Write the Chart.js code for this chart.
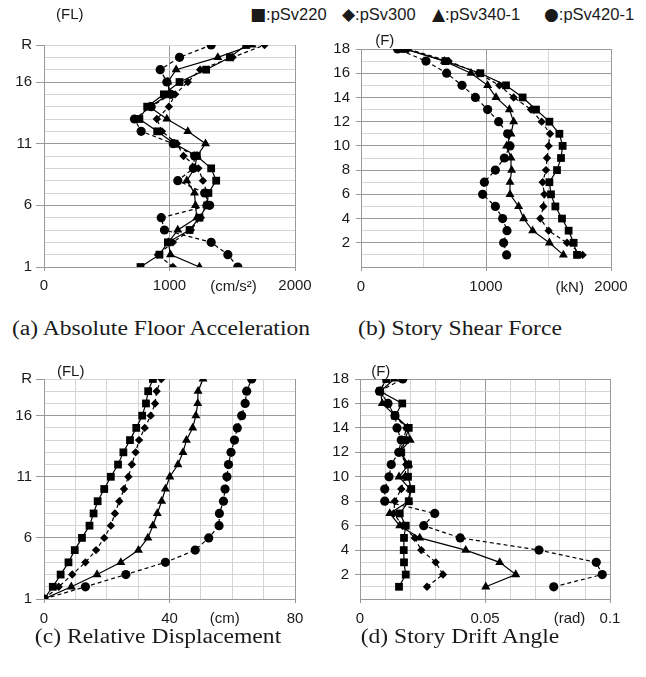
<!DOCTYPE html>
<html>
<head>
<meta charset="utf-8">
<script src="https://cdn.jsdelivr.net/npm/chart.js@4.4.1/dist/chart.umd.min.js"></script>
<style>
  body { margin: 0; background: #fff; width: 646px; height: 677px; position: relative; overflow: hidden;
         font-family: 'Liberation Sans', Arial, sans-serif; color: #1a1a1a; }
  canvas { position: absolute; }
  .legend { position: absolute; top: 4px; font-size: 16.5px; line-height: 20px; white-space: nowrap; }
  .legend .sym { font-family: 'DejaVu Sans', sans-serif; font-size: 17px; }
  .cap { position: absolute; font-family: 'Liberation Serif', 'Times New Roman', serif; font-size: 20px; line-height: 22px;
         white-space: nowrap; transform: translateX(-50%) scaleX(1.18); }
</style>
</head>
<body>

<div class="legend" style="left:250px"><span class="sym">■</span>:pSv220</div>
<div class="legend" style="left:342px"><span class="sym">◆</span>:pSv300</div>
<div class="legend" style="left:432px"><span class="sym">▲</span>:pSv340-1</div>
<div class="legend" style="left:544px"><span class="sym">●</span>:pSv420-1</div>

<canvas id="chartA" width="323" height="310" style="left:0;top:0"></canvas>
<canvas id="chartB" width="323" height="310" style="left:323px;top:0"></canvas>
<canvas id="chartC" width="323" height="300" style="left:0;top:340px"></canvas>
<canvas id="chartD" width="323" height="300" style="left:323px;top:340px"></canvas>

<div class="cap" style="left:161px;top:317px">(a) Absolute Floor Acceleration</div>
<div class="cap" style="left:460px;top:317px">(b) Story Shear Force</div>
<div class="cap" style="left:158px;top:625px">(c) Relative Displacement</div>
<div class="cap" style="left:460px;top:625px">(d) Story Drift Angle</div>

<script>
// floors (19 = R) and stories
const floorLevels = [1, 2, 3, 4, 5, 6, 7, 8, 9, 10, 11, 12, 13, 14, 15, 16, 17, 18, 19];
const storyLevels = [1, 2, 3, 4, 5, 6, 7, 8, 9, 10, 11, 12, 13, 14, 15, 16, 17, 18];
const seriesNames = ['pSv220', 'pSv300', 'pSv340-1', 'pSv420-1'];

// (a) absolute floor acceleration, cm/s2
const accelSv220 = [769, 920, 987, 1160, 1239, 1300, 1310, 1372, 1332, 1218, 1040, 902, 760, 822, 955, 1080, 1292, 1481, 1611];
const accelSv300 = [1027, 907, 1027, 1170, 1250, 1290, 1300, 1266, 1230, 1112, 1060, 940, 899, 995, 1045, 1146, 1244, 1503, 1757];
const accelSv340 = [1239, 1008, 990, 1066, 1218, 1207, 1199, 1138, 1200, 1220, 1287, 1146, 979, 840, 1000, 987, 1053, 1385, 1659];
const accelSv420 = [1544, 1465, 1332, 960, 934, 1320, 1280, 1066, 1190, 1200, 1030, 774, 721, 854, 1010, 979, 926, 1080, 1332];

// (b) story shear force, kN
const shearSv220 = [1728, 1701, 1661, 1608, 1555, 1520, 1507, 1568, 1600, 1613, 1587, 1507, 1400, 1293, 1160, 955, 675, 350];
const shearSv300 = [1773, 1648, 1501, 1435, 1459, 1467, 1453, 1480, 1488, 1501, 1512, 1445, 1360, 1221, 1107, 940, 701, 375];
const shearSv340 = [1619, 1507, 1373, 1301, 1261, 1192, 1192, 1205, 1200, 1165, 1200, 1221, 1187, 1080, 1013, 880, 667, 355];
const shearSv420 = [1165, 1141, 1168, 1133, 1075, 973, 987, 1075, 1147, 1192, 1173, 1101, 1013, 915, 808, 685, 520, 293];

// (c) relative displacement, cm
const dispSv220 = [0, 2.8, 5.3, 7.8, 9.8, 12.1, 14.5, 15.8, 17.1, 19.2, 21.3, 23.6, 25.3, 27.4, 29.4, 31.3, 32.5, 33.2, 34.7];
const dispSv300 = [0, 4.7, 9.0, 13.2, 16.6, 19.2, 21.3, 22.6, 24.0, 25.5, 26.9, 28.0, 29.2, 30.3, 32.1, 34.0, 35.4, 35.9, 37.4];
const dispSv340 = [0, 8.7, 16.9, 24.5, 30.1, 33.1, 34.7, 36.1, 37.5, 38.7, 40.1, 42.7, 44.3, 45.4, 47.4, 48.4, 49.0, 49.1, 50.7];
const dispSv420 = [0, 13.2, 26.1, 38.7, 48.2, 52.5, 55.8, 55.9, 57.2, 57.7, 58.3, 58.8, 59.6, 60.7, 61.6, 63.0, 64.1, 64.6, 66.2];

// (d) story drift angle, rad
const driftSv220 = [0.0156, 0.0183, 0.0176, 0.0175, 0.0176, 0.0183, 0.0159, 0.0195, 0.0205, 0.0192, 0.0192, 0.0165, 0.0180, 0.0195, 0.0140, 0.0169, 0.0080, 0.0105];
const driftSv300 = [0.0268, 0.0332, 0.0303, 0.0245, 0.0219, 0.0170, 0.0135, 0.0139, 0.0165, 0.0180, 0.0185, 0.0160, 0.0175, 0.0185, 0.0138, 0.0112, 0.0080, 0.0105];
const driftSv340 = [0.0503, 0.0623, 0.0559, 0.0423, 0.0239, 0.0159, 0.0119, 0.0195, 0.0200, 0.0156, 0.0195, 0.0158, 0.0201, 0.0190, 0.0140, 0.0089, 0.0082, 0.0137];
const driftSv420 = [0.0775, 0.0969, 0.0945, 0.0716, 0.0401, 0.0255, 0.0299, 0.0099, 0.0099, 0.0116, 0.0125, 0.0155, 0.0165, 0.0148, 0.0140, 0.0112, 0.0078, 0.0171];

// tick labels
const floorTickLabels = { 1: '1', 6: '6', 11: '11', 16: '16', 19: 'R' };
const storyTickLabels = { 2: '2', 4: '4', 6: '6', 8: '8', 10: '10', 12: '12', 14: '14', 16: '16', 18: '18' };
const accelTickLabels = ['0', '1000', '2000'];
const shearTickLabels = ['0', '1000', '2000'];
const dispTickLabels = ['0', '40', '80'];
const driftTickLabels = ['0', '0.05', '0.1'];

const MAJOR = '#9a9a9a';
const MINOR = '#d4d4d4';
const TEXT = '#1a1a1a';
const FONT = { family: "'Liberation Sans', Arial, sans-serif", size: 15 };

const markerStyles = [
    { pointStyle: 'rect', radius: 5.5, dash: [] },
    { pointStyle: 'rectRot', radius: 4.2, dash: [4, 3] },
    { pointStyle: 'triangle', radius: 5.2, dash: [] },
    { pointStyle: 'circle', radius: 4.6, dash: [4, 3] }
];

function buildDatasets(levels, seriesList) {
    return seriesList.map((values, i) => ({
        label: seriesNames[i],
        data: values.map((v, k) => ({ x: v, y: levels[k] })),
        showLine: true,
        borderColor: '#000',
        backgroundColor: '#000',
        borderWidth: 1.2,
        borderDash: markerStyles[i].dash,
        pointStyle: markerStyles[i].pointStyle,
        pointRadius: markerStyles[i].radius,
        pointBorderWidth: 0,
        pointBackgroundColor: '#000',
        tension: 0
    }));
}

// draws unit labels such as (FL) and (kN) next to the axes
const unitTextPlugin = {
    id: 'unitText',
    afterDraw(chart, args, opts) {
        const ctx = chart.ctx;
        const area = chart.chartArea;
        ctx.save();
        ctx.fillStyle = TEXT;
        ctx.font = `${FONT.size}px ${FONT.family}`;
        ctx.textAlign = 'center';
        ctx.textBaseline = 'middle';
        (opts.items || []).forEach(item => {
            const x = chart.scales.x.getPixelForValue(item.x);
            const y = item.fromTop ? area.top + item.dy : area.bottom + item.dy;
            ctx.fillText(item.text, x, y);
        });
        ctx.restore();
    }
};

function makePanel(id, cfg) {
    const near = (a, b) => Math.abs(a - b) < cfg.xStep * 1e-3;
    const isLabelX = v => cfg.xLabelAt.some(t => near(t, v));
    const xLabel = v => {
        const idx = cfg.xLabelAt.findIndex(t => near(t, v));
        return idx >= 0 ? cfg.xLabels[idx] : '';
    };
    const yLabel = v => cfg.yLabels[Math.round(v)] || '';

    new Chart(document.getElementById(id), {
        type: 'scatter',
        data: { datasets: cfg.datasets },
        plugins: [unitTextPlugin],
        options: {
            responsive: false,
            animation: false,
            events: [],
            layout: { padding: cfg.padding },
            plugins: {
                legend: { display: false },
                tooltip: { enabled: false },
                unitText: { items: cfg.units }
            },
            scales: {
                x: {
                    type: 'linear',
                    min: cfg.xMin, max: cfg.xMax,
                    afterFit: s => { s.height = cfg.xHeight; },
                    border: { color: MAJOR, width: 1 },
                    grid: {
                        tickLength: 4,
                        lineWidth: 1,
                        color: c => (c.tick && isLabelX(c.tick.value)) ? MAJOR : MINOR,
                        tickColor: c => (c.tick && isLabelX(c.tick.value)) ? MAJOR : 'rgba(0,0,0,0)'
                    },
                    ticks: {
                        stepSize: cfg.xStep,
                        autoSkip: false,
                        maxRotation: 0,
                        maxTicksLimit: 100,
                        padding: cfg.xPad,
                        color: TEXT,
                        font: FONT,
                        callback: v => xLabel(v)
                    }
                },
                y: {
                    type: 'linear',
                    min: cfg.yMin, max: cfg.yMax,
                    afterFit: s => { s.width = cfg.yWidth; },
                    border: { color: MAJOR, width: 1 },
                    grid: {
                        tickLength: cfg.tickLen,
                        lineWidth: 1,
                        color: c => (c.tick && cfg.yMajor.includes(c.tick.value)) ? MAJOR : MINOR,
                        tickColor: c => (c.tick && yLabel(c.tick.value)) ? MAJOR : 'rgba(0,0,0,0)'
                    },
                    ticks: {
                        stepSize: 1,
                        autoSkip: false,
                        maxTicksLimit: 100,
                        padding: cfg.yPad,
                        color: TEXT,
                        font: FONT,
                        callback: v => yLabel(v)
                    }
                }
            }
        }
    });
}

makePanel('chartA', {
    datasets: buildDatasets(floorLevels, [accelSv220, accelSv300, accelSv340, accelSv420]),
    xMin: 0, xMax: 2000, xStep: 1000, xLabelAt: [0, 1000, 2000], xLabels: accelTickLabels,
    yMin: 1, yMax: 19, yLabels: floorTickLabels, yMajor: [1, 6, 11, 16],
    padding: { top: 45, right: 28, bottom: 0, left: 0 },
    yWidth: 44, xHeight: 43, xPad: 6, tickLen: 8, yPad: 4,
    units: [
        { text: '(FL)', x: 205, dy: -30, fromTop: true },
        { text: '(cm/s²)', x: 1510, dy: 19.5 }
    ]
});

makePanel('chartB', {
    datasets: buildDatasets(storyLevels, [shearSv220, shearSv300, shearSv340, shearSv420]),
    xMin: 0, xMax: 2000, xStep: 500, xLabelAt: [0, 1000, 2000], xLabels: shearTickLabels,
    yMin: 0, yMax: 18, yLabels: storyTickLabels, yMajor: [0, 2, 4, 6, 8, 10, 12, 14, 16, 18],
    padding: { top: 49, right: 35, bottom: 0, left: 0 },
    yWidth: 38, xHeight: 43, xPad: 7, tickLen: 5, yPad: 6,
    units: [
        { text: '(F)', x: 190, dy: -8, fromTop: true },
        { text: '(kN)', x: 1670, dy: 21 }
    ]
});

makePanel('chartC', {
    datasets: buildDatasets(floorLevels, [dispSv220, dispSv300, dispSv340, dispSv420]),
    xMin: 0, xMax: 80, xStep: 10, xLabelAt: [0, 40, 80], xLabels: dispTickLabels,
    yMin: 1, yMax: 19, yLabels: floorTickLabels, yMajor: [1, 6, 11, 16],
    padding: { top: 39, right: 28, bottom: 0, left: 0 },
    yWidth: 44, xHeight: 41, xPad: 7, tickLen: 8, yPad: 4,
    units: [
        { text: '(FL)', x: 8.5, dy: -7, fromTop: true },
        { text: '(cm)', x: 57.6, dy: 20 }
    ]
});

makePanel('chartD', {
    datasets: buildDatasets(storyLevels, [driftSv220, driftSv300, driftSv340, driftSv420]),
    xMin: 0, xMax: 0.1, xStep: 0.01, xLabelAt: [0, 0.05, 0.1], xLabels: driftTickLabels,
    yMin: 0, yMax: 18, yLabels: storyTickLabels, yMajor: [0, 2, 4, 6, 8, 10, 12, 14, 16, 18],
    padding: { top: 39, right: 36, bottom: 0, left: 0 },
    yWidth: 37, xHeight: 41, xPad: 7, tickLen: 5, yPad: 6,
    units: [
        { text: '(F)', x: 0.0083, dy: -7, fromTop: true },
        { text: '(rad)', x: 0.0838, dy: 20 }
    ]
});
</script>
</body>
</html>
